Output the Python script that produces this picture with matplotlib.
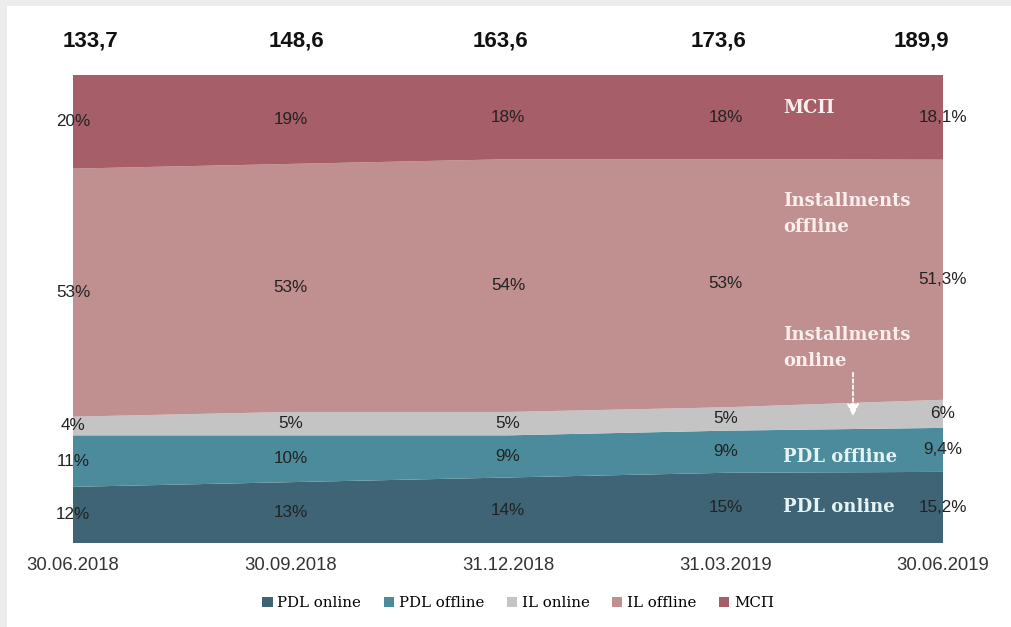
import matplotlib
matplotlib.use("Agg")
import matplotlib.pyplot as plt
from matplotlib.patches import Patch, Rectangle
from matplotlib.transforms import offset_copy

dates = ["30.06.2018", "30.09.2018", "31.12.2018", "31.03.2019", "30.06.2019"]
totals = ["133,7", "148,6", "163,6", "173,6", "189,9"]
series_names = ["PDL online", "PDL offline", "IL online", "IL offline", "МСП"]
pdl_online = [12, 13, 14, 15, 15.2]
pdl_offline = [11, 10, 9, 9, 9.4]
il_online = [4, 5, 5, 5, 6]
il_offline = [53, 53, 54, 53, 51.3]
msp = [20, 19, 18, 18, 18.1]
labels_pdl_online = ["12%", "13%", "14%", "15%", "15,2%"]
labels_pdl_offline = ["11%", "10%", "9%", "9%", "9,4%"]
labels_il_online = ["4%", "5%", "5%", "5%", "6%"]
labels_il_offline = ["53%", "53%", "54%", "53%", "51,3%"]
labels_msp = ["20%", "19%", "18%", "18%", "18,1%"]
colors = ["#3e6476", "#4b8b9b", "#c4c4c4", "#bf908f", "#a65e68"]

W, H = 1011, 627
fig = plt.figure(figsize=(W / 100, H / 100), dpi=100)
fig.patch.set_facecolor("#ececec")
fig.add_artist(Rectangle((7 / W, 0), 1, 1 - 6 / H, transform=fig.transFigure,
                         facecolor="white", edgecolor="none", zorder=-1))

left, right, top, bottom = 73, 943, 75, 543
ax = fig.add_axes([left / W, 1 - bottom / H, (right - left) / W, (bottom - top) / H])
ax.set_facecolor("none")

x = list(range(len(dates)))
series = [pdl_online, pdl_offline, il_online, il_offline, msp]
labels = [labels_pdl_online, labels_pdl_offline, labels_il_online, labels_il_offline, labels_msp]
ax.stackplot(x, *series, colors=colors, linewidth=0)
ax.set_xlim(0, len(dates) - 1)
ax.set_ylim(0, 100)
ax.axis("off")

total_dx = [17, 6, -8, -7, -22]  # pixel offsets of the total labels
sans = ["Liberation Sans", "DejaVu Sans"]
pct_font = dict(family=sans, fontsize=12.3, color="#222222", ha="center", va="center")
for i in range(len(dates)):
    base = 0
    for s, lab in zip(series, labels):
        ax.text(x[i], base + s[i] / 2, lab[i], **pct_font)
        base += s[i]
    ax.text(x[i], -4.8, dates[i], family=sans, fontsize=13.3,
            color="#333333", ha="center", va="center")
    tr = offset_copy(ax.transData, fig=fig, x=total_dx[i] * 0.72, y=0, units="points")
    ax.text(x[i], 107.3, totals[i], family=["Liberation Sans Narrow"] + sans,
            fontsize=16, fontweight="bold", color="#111111", ha="center", va="center",
            transform=tr)

ann = dict(family=["DejaVu Serif"], fontsize=13, fontweight="bold",
           color="#fbeeee", ha="left", va="center", transform=ax.transAxes, linespacing=1.55)
ax0 = (783 - left) / (right - left)
def ya(py):
    return (bottom - py) / (bottom - top)
ax.text(ax0, ya(108), "МСП", **ann)
ax.text(ax0, ya(214), "Installments\noffline", **ann)
ax.text(ax0, ya(348), "Installments\nonline", **ann)
ax.text(ax0, ya(457), "PDL offline", **{**ann, "color": "#e6f3f5"})
ax.text(ax0, ya(507), "PDL online", **{**ann, "color": "#e6f3f5"})
ax.annotate("", xy=((853 - left) / (right - left), ya(419)),
            xytext=((853 - left) / (right - left), ya(370)),
            xycoords="axes fraction", textcoords="axes fraction",
            arrowprops=dict(arrowstyle="-|>", color="white", linestyle=(0, (2, 1.5)),
                            lw=1.3, mutation_scale=18))

handles = [Patch(facecolor=c, edgecolor="none") for c in colors]
fig.legend(handles, series_names, loc="center", bbox_to_anchor=(518 / W, 1 - 603 / H),
           ncol=5, frameon=False, handlelength=0.7, handleheight=0.7, handletextpad=0.3,
           columnspacing=1.5, prop=dict(family=["DejaVu Serif"], size=10.8))

fig.savefig("out.png", dpi=100, facecolor=fig.get_facecolor())
